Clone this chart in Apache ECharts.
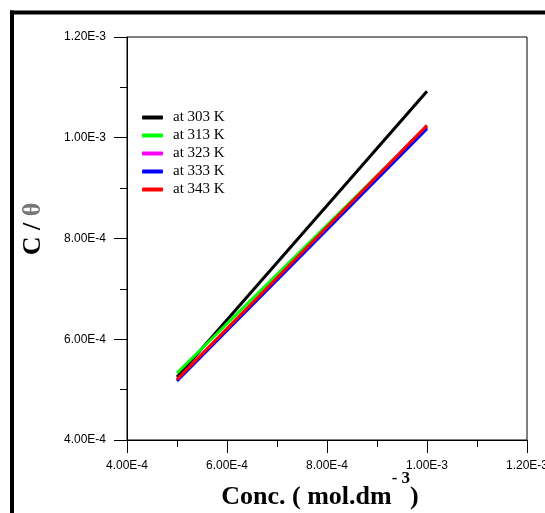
<!DOCTYPE html>
<html><head><meta charset="utf-8">
<script src="https://cdn.jsdelivr.net/npm/echarts@6/dist/echarts.min.js"></script>
<style>html,body{margin:0;padding:0;background:#fff}#c{width:545px;height:513px}</style>
</head><body><div id="c"></div>
<script>
var seriesNames = ['at 303 K', 'at 313 K', 'at 323 K', 'at 333 K', 'at 343 K'];
var concValues = [5.0e-4, 1.0e-3];
var v303 = [5.25e-4, 1.0925e-3];
var v313 = [5.33e-4, 1.022e-3];
var v323 = [5.20e-4, 1.021e-3];
var v333 = [5.17e-4, 1.018e-3];
var v343 = [5.20e-4, 1.0245e-3];
var colors = ['#000000', '#00ff00', '#ff00ff', '#0000ff', '#ff0000'];
var allValues = [v303, v313, v323, v333, v343];

function fmt(v) { return v.toExponential(2).toUpperCase(); }

var chart = echarts.init(document.getElementById('c'), null, {renderer: 'canvas'});
var series = seriesNames.map(function (n, i) {
  return {
    name: n, type: 'line', symbol: 'none', silent: true,
    data: concValues.map(function (x, j) { return [x, allValues[i][j]]; }),
    lineStyle: {color: colors[i], width: 3}, itemStyle: {color: colors[i]}
  };
});
var axisCommon = {
  type: 'value', min: 4e-4, max: 1.2e-3, interval: 2e-4,
  axisLine: {show: true, lineStyle: {color: '#000', width: 1}},
  axisTick: {show: true, inside: false, length: 13, lineStyle: {color: '#000'}},
  minorTick: {show: true, splitNumber: 2, length: 7, lineStyle: {color: '#000'}},
  splitLine: {show: false},
  axisLabel: {formatter: fmt, fontFamily: 'Liberation Sans', fontSize: 12, color: '#000', showMinLabel: true, showMaxLabel: true, hideOverlap: false}
};
chart.setOption({
  animation: false,
  backgroundColor: '#fff',
  grid: {left: 127, top: 37, right: 18, bottom: 73, containLabel: false, outerBoundsMode: 'none',
    show: true, borderColor: '#000', borderWidth: 1, backgroundColor: 'transparent'},
  xAxis: Object.assign({}, axisCommon, {axisLabel: Object.assign({}, axisCommon.axisLabel, {margin: 20})}),
  yAxis: Object.assign({}, axisCommon, {axisLabel: Object.assign({}, axisCommon.axisLabel, {margin: 21})}),
  legend: {
    orient: 'vertical', left: 137, top: 105, itemWidth: 21, itemHeight: 4, itemGap: 3,
    icon: 'roundRect', selectedMode: false,
    data: seriesNames,
    textStyle: {fontFamily: 'Liberation Serif', fontSize: 15, lineHeight: 15, color: '#000', padding: [0, 0, 0, 5]}
  },
  graphic: [
    {type: 'line', shape: {x1: 10, y1: 12.5, x2: 545, y2: 12.5}, style: {stroke: '#000', lineWidth: 4}},
    {type: 'line', shape: {x1: 12, y1: 10.5, x2: 12, y2: 513}, style: {stroke: '#000', lineWidth: 4}},
    {type: 'text', x: 33, y: 229, rotation: Math.PI / 2,
      style: {text: '{a|C / }{b|θ}', align: 'center', verticalAlign: 'middle',
        rich: {a: {fontFamily: 'Liberation Serif', fontWeight: 'bold', fontSize: 26, fill: '#000'},
               b: {fontFamily: 'Liberation Serif', fontWeight: 'bold', fontSize: 26, fill: '#777'}}}},
    {type: 'text', x: 320, y: 490,
      style: {text: '{m|Conc. ( mol.dm}{s|- 3}{m|)}', align: 'center', verticalAlign: 'middle',
        rich: {m: {fontFamily: 'Liberation Serif', fontWeight: 'bold', fontSize: 26, lineHeight: 40, verticalAlign: 'bottom', fill: '#000'},
               s: {fontFamily: 'Liberation Serif', fontWeight: 'bold', fontSize: 17, lineHeight: 17, verticalAlign: 'top', fill: '#000'}}}}
  ],
  series: series
});
</script></body></html>
